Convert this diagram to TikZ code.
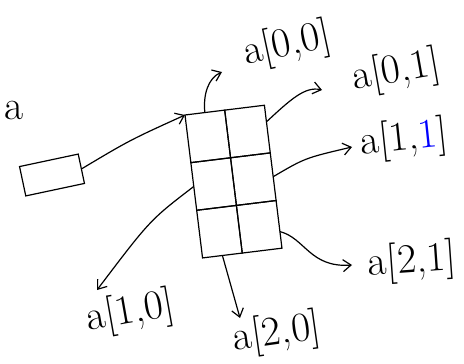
\documentclass[tikz,border=0pt]{standalone}
\usepackage{tikz}
\usetikzlibrary{arrows.meta, positioning}

\begin{document}
\begin{tikzpicture}[x=0.5pt, y=-0.5pt, line width=0.6pt,
    cell/.style={draw, minimum width=20pt, minimum height=24pt, inner sep=0pt, outer sep=0pt, transform shape},
    lbl/.style={font=\huge, inner sep=1pt},
    pointer/.style={-{Straight Barb[length=4pt, width=6pt]}}]
    \useasboundingbox (0,0) rectangle (464,363);

    % Left: the variable
    \node[font=\huge] (name) at (14,110) {a};
    \node[draw, rotate=12, minimum width=30pt, minimum height=15pt] (var) at (52,175) {};

    % The array: 3 rows, 2 columns
    \begin{scope}[shift={(185,115)}, rotate=7]
        \foreach \r in {0,1,2} \foreach \c in {0,1}
            \node[cell] (c\r\c) at ({20+40*\c},{24+48*\r}) {};
    \end{scope}

    \draw[pointer] (var.east) .. controls (130,140) .. (c00.north west);

    % Element labels
    \node[lbl, rotate=12] (l00) at (287,45) {a[0,0]};
    \node[lbl, rotate=10] (l01) at (396,72) {a[0,1]};
    \node[lbl, rotate=6] (l11) at (404,140) {a[1,{\color{blue}1}]};
    \node[lbl, rotate=4] (l21) at (412,262) {a[2,1]};
    \node[lbl, rotate=10] (l10) at (130,313) {a[1,0]};
    \node[lbl, rotate=8] (l20) at (277,334) {a[2,0]};

    % Arrow ends
    \coordinate (t00) at (222,72);
    \coordinate (t01) at (322,90);
    \coordinate (t11) at (352,147);
    \coordinate (t21) at (352,265);
    \coordinate (t10) at (97,290);
    \coordinate (t20) at (240,318);

    \draw[pointer] (c00.north) .. controls (203,95) and (208,78) .. (t00);
    \draw[pointer] (c01.20) .. controls (290,100) and (305,86) .. (t01);
    \draw[pointer] (c11.east) .. controls (305,158) .. (t11);
    \draw[pointer] (c21.-20) .. controls (305,238) and (310,268) .. (t21);
    \draw[pointer] (c10.west) .. controls (150,220) .. (t10);
    \draw[pointer] (c20.south) -- (t20);
\end{tikzpicture}
\end{document}
